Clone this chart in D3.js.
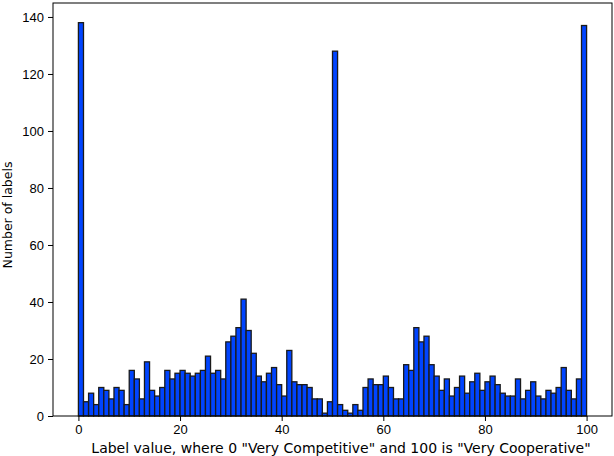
<!DOCTYPE html>
<html>
<head>
<meta charset="utf-8">
<script src="https://cdn.jsdelivr.net/npm/d3@7"></script>
<style>
  body { margin: 0; background: #fff; }
  svg { font-family: "DejaVu Sans", sans-serif; }
  .axis text { font-size: 13px; fill: #000; }
  .axis path, .axis line { stroke: #000; }
  .bar { fill: #0044ff; stroke: #1a1a1a; stroke-width: 1.3; }
</style>
</head>
<body>
<svg width="614" height="456"></svg>
<script>
// counts per label value bin (0..99, width 1; last bin includes 100)
var counts = [138, 5, 8, 4, 10, 9, 6, 10, 9, 4,
              16, 13, 6, 19, 9, 7, 10, 16, 13, 15,
              16, 15, 14, 15, 16, 21, 15, 16, 13, 26,
              28, 31, 41, 30, 22, 14, 12, 15, 17, 11,
              7, 23, 12, 11, 11, 10, 6, 6, 1, 5,
              128, 4, 2, 1, 4, 2, 10, 13, 11, 11,
              14, 10, 6, 6, 18, 16, 31, 26, 28, 18,
              14, 9, 13, 7, 10, 14, 8, 12, 15, 9,
              12, 14, 11, 8, 7, 7, 13, 6, 9, 12,
              7, 6, 9, 8, 10, 17, 9, 6, 13, 137];
var xTicks = [0, 20, 40, 60, 80, 100];
var yTicks = [0, 20, 40, 60, 80, 100, 120, 140];

var svg = d3.select("svg");
var pLeft = 53, pRight = 612, pTop = 3, pBottom = 416;

var x = d3.scaleLinear().domain([-5, 105]).range([pLeft, pRight]);
var y = d3.scaleLinear().domain([0, 138 * 1.05]).range([pBottom, pTop]);

var bins = counts.map(function(c, i) { return {x0: i, x1: i + 1, n: c}; });

svg.selectAll(".bar")
  .data(bins)
  .enter().append("rect")
    .attr("class", "bar")
    .attr("x", function(d) { return x(d.x0); })
    .attr("y", function(d) { return y(d.n); })
    .attr("width", function(d) { return x(d.x1) - x(d.x0); })
    .attr("height", function(d) { return y(0) - y(d.n); });

// frame
svg.append("rect")
  .attr("x", pLeft).attr("y", pTop)
  .attr("width", pRight - pLeft).attr("height", pBottom - pTop)
  .attr("fill", "none").attr("stroke", "#000").attr("stroke-width", 1);

svg.append("g")
  .attr("class", "axis")
  .attr("transform", "translate(0," + pBottom + ")")
  .call(d3.axisBottom(x).tickValues(xTicks).tickSize(5).tickPadding(4))
  .call(function(g) { g.select(".domain").remove(); });

svg.append("g")
  .attr("class", "axis")
  .attr("transform", "translate(" + pLeft + ",0)")
  .call(d3.axisLeft(y).tickValues(yTicks).tickSize(5).tickPadding(4))
  .call(function(g) { g.select(".domain").remove(); });

svg.append("text")
  .attr("x", 341)
  .attr("y", 453)
  .attr("text-anchor", "middle")
  .style("font-size", "14px")
  .text('Label value, where 0 "Very Competitive" and 100 is "Very Cooperative"');

svg.append("text")
  .attr("transform", "translate(12,215) rotate(-90)")
  .attr("text-anchor", "middle")
  .style("font-size", "12.5px")
  .text("Number of labels");
</script>
</body>
</html>
